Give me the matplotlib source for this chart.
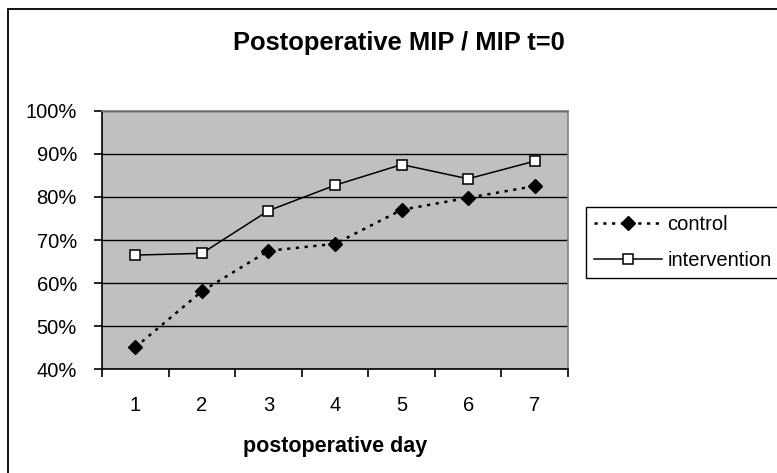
import matplotlib
matplotlib.use("Agg")
import matplotlib.pyplot as plt
from matplotlib.patches import Rectangle

plt.rcParams['font.family'] = ['Liberation Sans', 'DejaVu Sans']

days = ["1", "2", "3", "4", "5", "6", "7"]
control = [45.1, 58.1, 67.5, 69.1, 77.0, 79.8, 82.5]
intervention = [66.5, 66.9, 76.8, 82.7, 87.5, 84.2, 88.3]
y_ticks = [40, 50, 60, 70, 80, 90, 100]
y_tick_labels = ["40%", "50%", "60%", "70%", "80%", "90%", "100%"]

W, H = 777, 473
fig = plt.figure(figsize=(W / 100, H / 100), dpi=100)
fig.patch.set_facecolor("white")

# chart-area frame (runs off the right and bottom edges)
fig.patches.append(Rectangle((8 / W, -0.1), 1.2, 1 - 9 / H + 0.1,
                             transform=fig.transFigure, fill=False,
                             edgecolor="black", linewidth=1.3))

ax = fig.add_axes([102 / W, 1 - 369.3 / H, 466 / W, 258.6 / H])
ax.set_facecolor("#c0c0c0")

x = list(range(1, len(days) + 1))
ctrl_line, = ax.plot(x, control, color="black", linewidth=1.8,
                     linestyle=(0, (1.3, 2.2)), marker="D", markersize=7,
                     markerfacecolor="black", markeredgecolor="black", zorder=4)
int_line, = ax.plot(x, intervention, color="black", linewidth=1.1,
                    linestyle="-", marker="s", markersize=7.5,
                    markerfacecolor="white", markeredgecolor="black",
                    markeredgewidth=1.1, zorder=4)

ax.set_xlim(0.5, len(days) + 0.5)
ax.set_ylim(40, 100)

ax.set_yticks(y_ticks)
ax.set_yticklabels(y_tick_labels, fontsize=14.5)
ax.yaxis.grid(True, color="black", linewidth=1.0)
ax.set_axisbelow(True)

ax.set_xticks([i + 0.5 for i in range(len(days) + 1)])
ax.set_xticklabels([])
ax.set_xticks(x, minor=True)
ax.set_xticklabels(days, minor=True, fontsize=14.5)
ax.tick_params(axis="x", which="major", direction="out", length=6, width=1.2)
ax.tick_params(axis="x", which="minor", length=0, pad=19)
ax.tick_params(axis="y", direction="out", length=6, width=1.2, pad=12)

for side in ("left", "bottom"):
    ax.spines[side].set_color("black")
    ax.spines[side].set_linewidth(1.2)
for side in ("top", "right"):
    ax.spines[side].set_color("#808080")
    ax.spines[side].set_linewidth(1.2)

ax.set_xlabel("postoperative day", fontsize=15.5, fontweight="bold", labelpad=15)

fig.text(399 / W, 1 - 43 / H, "Postoperative MIP / MIP t=0", ha="center",
         va="center", fontsize=18.4, fontweight="bold")

leg = fig.legend([ctrl_line, int_line], ["control", "intervention"],
                 loc="upper left", bbox_to_anchor=(586 / W, 1 - 207 / H),
                 fontsize=14.5, frameon=True, fancybox=False, framealpha=1,
                 edgecolor="black", borderpad=0.4, handlelength=3.35,
                 handletextpad=0.3, labelspacing=0.85, borderaxespad=0)
leg.get_frame().set_linewidth(1.0)

fig.savefig("out.png", dpi=100)
